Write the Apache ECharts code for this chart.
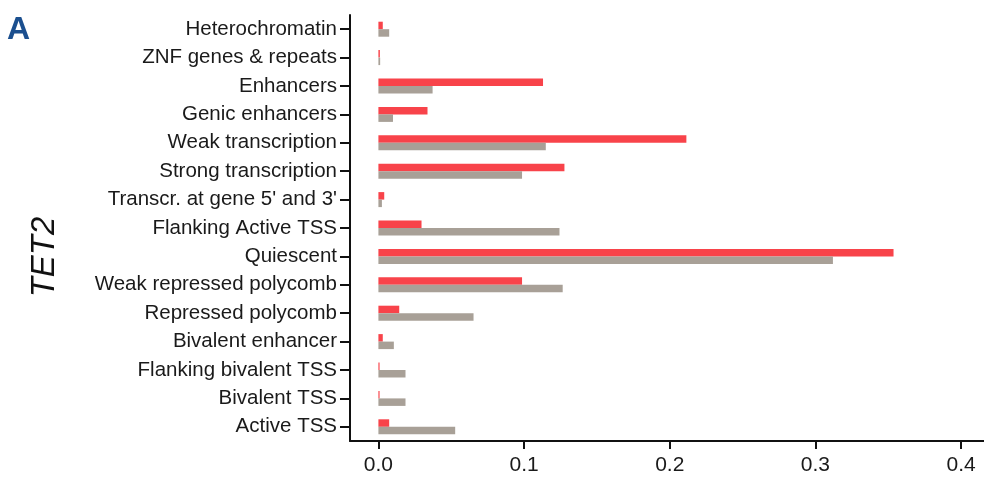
<!DOCTYPE html>
<html>
<head>
<meta charset="utf-8">
<script src="https://cdn.jsdelivr.net/npm/echarts@6/dist/echarts.min.js"></script>
<style>html,body{margin:0;padding:0;background:#fff;}#c{width:984px;height:479px;}</style>
</head>
<body>
<div id="c"></div>
<script>
const categories = ["Heterochromatin","ZNF genes & repeats","Enhancers","Genic enhancers","Weak transcription","Strong transcription","Transcr. at gene 5' and 3'","Flanking Active TSS","Quiescent","Weak repressed polycomb","Repressed polycomb","Bivalent enhancer","Flanking bivalent TSS","Bivalent TSS","Active TSS"];
const redValues = [0.003,0.001,0.113,0.0337,0.2114,0.1277,0.004,0.0296,0.3536,0.0986,0.0143,0.003,0.0008,0.0008,0.0074];
const grayValues = [0.0074,0.0012,0.0372,0.010,0.1149,0.0986,0.0024,0.1243,0.312,0.1265,0.0653,0.0106,0.0186,0.0186,0.0527];
const xTicks = [0,0.1,0.2,0.3,0.4];
const yTitle = "TET2";
const panel = "A";
const FONT = 'Arial, "Liberation Sans", sans-serif';

const chart = echarts.init(document.getElementById('c'));
chart.setOption({
  animation:false,
  backgroundColor:'#fff',
  graphic:[
    {type:'text',left:7,top:14,style:{text:panel,fill:'#1b4f8f',font:'bold 32px ' + FONT}},
    {type:'text',x:45,y:257,rotation:Math.PI/2,style:{text:yTitle,fill:'#111',font:'italic 33px ' + FONT,align:'center',verticalAlign:'middle'}}
  ],
  grid:{left:350,right:0,top:15,bottom:38,containLabel:false},
  xAxis:{
    type:'value',min:-0.0195,max:0.4157,
    axisLine:{show:true,onZero:false,lineStyle:{color:'#111',width:2}},
    axisTick:{show:true,length:8,lineStyle:{color:'#111',width:2},customValues:xTicks},
    axisLabel:{customValues:xTicks,color:'#1a1a1a',fontSize:21,margin:14,fontFamily:FONT,formatter:v=>v.toFixed(1)},
    splitLine:{show:false}
  },
  yAxis:{
    type:'category',data:categories,inverse:true,
    axisLine:{show:true,onZero:false,lineStyle:{color:'#111',width:2}},
    axisTick:{show:true,alignWithLabel:true,length:10,lineStyle:{color:'#111',width:2}},
    axisLabel:{color:'#1a1a1a',fontSize:20.5,margin:13,fontFamily:FONT}
  },
  series:[
    {type:'bar',data:redValues,barWidth:7.5,barGap:'0%',itemStyle:{color:'#f8434a'}},
    {type:'bar',data:grayValues,barWidth:7.5,barGap:'0%',itemStyle:{color:'#a8a097'}}
  ]
});
</script>
</body>
</html>
